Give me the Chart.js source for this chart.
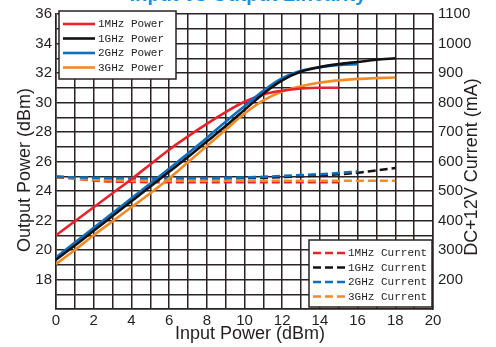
<!DOCTYPE html>
<html>
<head>
<meta charset="utf-8">
<script src="https://cdn.jsdelivr.net/npm/chart.js@4"></script>
<style>
  html, body { margin: 0; padding: 0; background: #fff; }
  canvas { display: block; }
</style>
</head>
<body>
<canvas id="myChart" width="496" height="347"></canvas>
<script>
// input power (dBm) along the x axis
const inputDbm = [0, 1, 2, 3, 4, 5, 6, 7, 8, 9, 10, 11, 12, 13, 14, 15, 16, 17, 18];

// output power (dBm), left axis
const pow1MHz = [21.0, 21.95, 22.9, 23.85, 24.8, 25.8, 26.8, 27.7, 28.55, 29.35, 30.05, 30.55, 30.8, 30.95, 31.0, 31.0];
const pow1GHz = [19.35, 20.3, 21.3, 22.3, 23.3, 24.3, 25.3, 26.3, 27.35, 28.4, 29.5, 30.6, 31.5, 32.1, 32.4, 32.6, 32.75, 32.9, 33.0];
const pow2GHz = [19.5, 20.5, 21.5, 22.5, 23.5, 24.5, 25.5, 26.55, 27.6, 28.7, 29.75, 30.8, 31.65, 32.15, 32.4, 32.55, 32.6];
const pow3GHz = [19.05, 20.0, 21.0, 21.95, 22.9, 23.85, 24.85, 25.95, 27.05, 28.15, 29.25, 30.15, 30.75, 31.1, 31.35, 31.5, 31.6, 31.65, 31.7];

// DC +12V current (mA), right axis
const cur1MHz = [548, 542, 536, 532, 531, 530, 530, 530, 530, 530, 530, 530, 530, 530, 530, 530];
const cur1GHz = [548, 546, 544, 543, 543, 543, 543, 543, 543, 543, 544, 545, 547, 550, 553, 557, 562, 570, 578];
const cur2GHz = [548, 546, 545, 544, 544, 544, 544, 544, 544, 545, 546, 548, 551, 554, 557, 561, 566];
const cur3GHz = [548, 543, 538, 536, 535, 535, 535, 535, 535, 535, 535, 535, 535, 535, 535, 535, 535, 535, 535];

const leftTicks = [18, 20, 22, 24, 26, 28, 30, 32, 34, 36];
const rightTicks = [200, 300, 400, 500, 600, 700, 800, 900, 1000, 1100];
const xTicks = [0, 2, 4, 6, 8, 10, 12, 14, 16, 18, 20];

const RED = '#e8232b';
const BLACK = '#111111';
const BLUE = '#0f6fbd';
const ORANGE = '#f28a26';
const GRID = '#2a2223';
const TXT = '#231f20';
const NUM_FONT = "'Liberation Sans Narrow', 'Liberation Sans', Arial, sans-serif";

function pts(vals) {
  return vals.map((v, i) => ({ x: inputDbm[i], y: v }));
}

function powerSet(label, vals, color, ord) {
  return {
    label: label, data: pts(vals), yAxisID: 'y',
    borderColor: color, backgroundColor: color, borderWidth: 2.6,
    pointRadius: 0, cubicInterpolationMode: 'monotone', order: ord
  };
}
function currentSet(label, vals, color, ord) {
  return {
    label: label, data: pts(vals), yAxisID: 'y2',
    borderColor: color, backgroundColor: color, borderWidth: 2.6, borderDash: [8, 4],
    pointRadius: 0, cubicInterpolationMode: 'monotone', order: ord
  };
}

const datasets = [
  powerSet('1MHz Power', pow1MHz, RED, 3),
  powerSet('1GHz Power', pow1GHz, BLACK, 1),
  powerSet('2GHz Power', pow2GHz, BLUE, 2),
  powerSet('3GHz Power', pow3GHz, ORANGE, 4),
  currentSet('1MHz Current', cur1MHz, RED, 8),
  currentSet('1GHz Current', cur1GHz, BLACK, 7),
  currentSet('2GHz Current', cur2GHz, BLUE, 5),
  currentSet('3GHz Current', cur3GHz, ORANGE, 6)
];

// titles + the two legend boxes drawn inside the plot
const decorations = {
  id: 'decorations',
  afterDraw(chart) {
    const c = chart.ctx;
    const area = chart.chartArea;
    c.save();

    c.fillStyle = '#1e8fd8';
    c.font = "bold 20px 'Liberation Sans', Arial, sans-serif";
    c.textAlign = 'center';
    c.textBaseline = 'alphabetic';
    c.fillText('Input vs Output Linearity', 248, 1);

    c.fillStyle = TXT;
    c.font = "18px 'Liberation Sans', Arial, sans-serif";
    c.fillText('Input Power (dBm)', 250, 339);

    c.textBaseline = 'middle';
    c.save();
    c.translate(25, 170);
    c.rotate(-Math.PI / 2);
    c.fillText('Output Power (dBm)', 0, 0);
    c.restore();

    c.save();
    c.translate(472, 167);
    c.rotate(-Math.PI / 2);
    c.fillText('DC+12V Current (mA)', 0, 0);
    c.restore();

    function legendBox(x, y, w, h, items) {
      c.fillStyle = '#fff';
      c.fillRect(x, y, w, h);
      c.strokeStyle = GRID;
      c.lineWidth = 1.5;
      c.strokeRect(x, y, w, h);
      c.font = "11px 'Liberation Mono', 'DejaVu Sans Mono', monospace";
      c.textAlign = 'left';
      c.textBaseline = 'middle';
      items.forEach((ds, i) => {
        const cy = y + 13 + i * 14.5;
        c.strokeStyle = ds.borderColor;
        c.lineWidth = 2.6;
        c.setLineDash(ds.borderDash || []);
        c.beginPath();
        c.moveTo(x + 4, cy);
        c.lineTo(x + 36, cy);
        c.stroke();
        c.setLineDash([]);
        c.fillStyle = TXT;
        c.fillText(ds.label, x + 39, cy + 0.5);
      });
    }
    const ds = chart.data.datasets;
    legendBox(59, 11, 117, 68, ds.slice(0, 4));
    legendBox(309, 240, 123, 67, ds.slice(4, 8));

    c.restore();
  }
};

const ctx = document.getElementById('myChart');

new Chart(ctx, {
  type: 'line',
  data: { datasets: datasets },
  options: {
    responsive: false,
    animation: false,
    layout: { padding: { top: 9, left: 0, right: 0, bottom: 0 } },
    plugins: {
      legend: { display: false },
      title: { display: false },
      tooltip: { enabled: false }
    },
    scales: {
      x: {
        type: 'linear', min: 0, max: 20,
        afterFit(s) { s.height = 38; },
        ticks: {
          stepSize: 1, autoSkip: false, maxRotation: 0, padding: 3,
          color: TXT, font: { family: NUM_FONT, size: 15 },
          callback: v => xTicks.includes(v) ? String(v) : ''
        },
        grid: { color: GRID, lineWidth: 1.5, drawTicks: false },
        border: { color: GRID, width: 1.5 }
      },
      y: {
        type: 'linear', position: 'left', min: 16, max: 36,
        afterFit(s) { s.width = 56; },
        ticks: {
          stepSize: 1, autoSkip: false, padding: 4,
          color: TXT, font: { family: NUM_FONT, size: 15 },
          callback: v => leftTicks.includes(v) ? String(v) : ''
        },
        grid: { color: GRID, lineWidth: 1.5, drawTicks: false },
        border: { color: GRID, width: 1.5 }
      },
      y2: {
        type: 'linear', position: 'right', min: 100, max: 1100,
        afterFit(s) { s.width = 63; },
        ticks: {
          stepSize: 100, autoSkip: false, padding: 5,
          color: TXT, font: { family: NUM_FONT, size: 15 },
          callback: v => rightTicks.includes(v) ? String(v) : ''
        },
        grid: { display: false, drawTicks: false },
        border: { color: GRID, width: 1.5 }
      }
    }
  },
  plugins: [decorations]
});
</script>
</body>
</html>
